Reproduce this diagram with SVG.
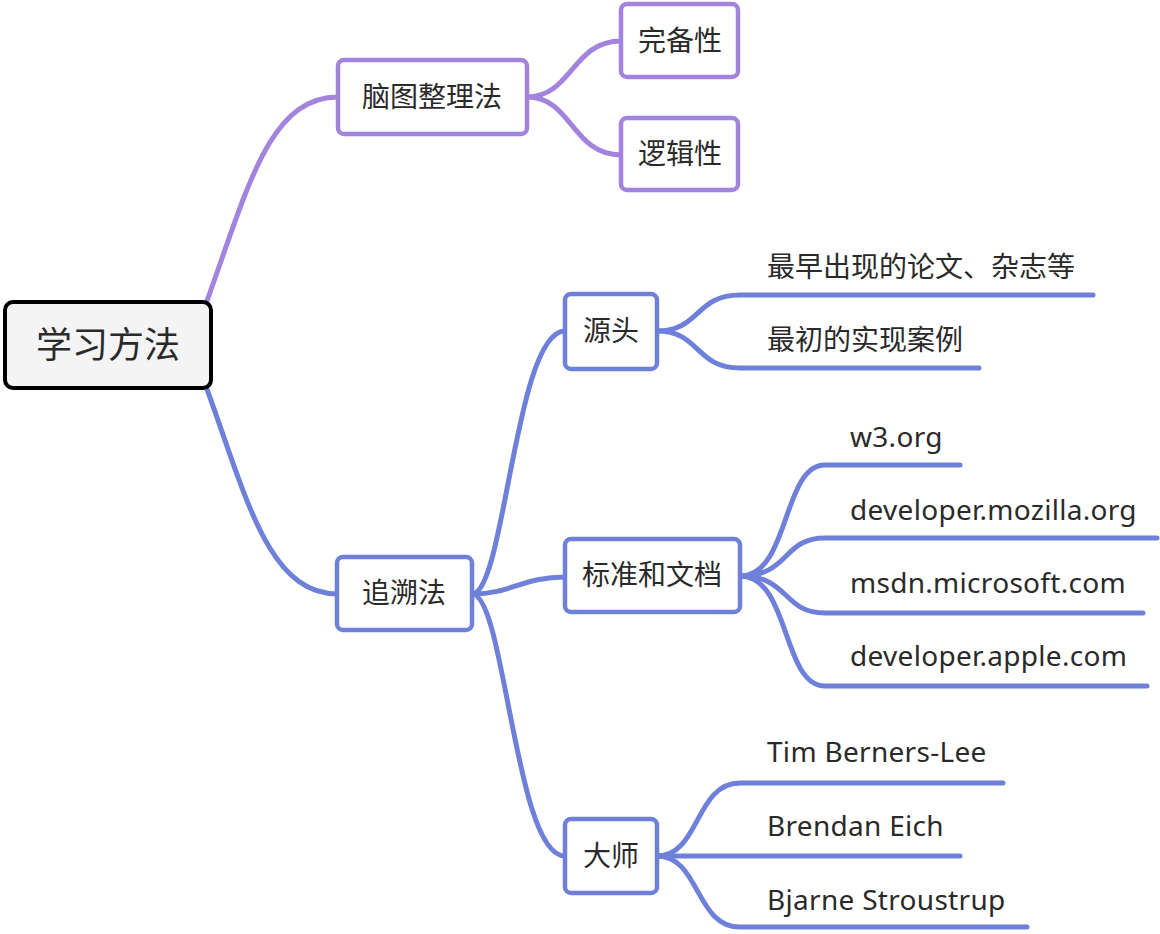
<svg xmlns="http://www.w3.org/2000/svg" width="1160" height="934" viewBox="0 0 1160 934">
<style>
text{font-family:"Noto Sans","Noto Sans CJK SC",sans-serif;fill:#2a2a2a;font-size:28px}
.c{text-anchor:middle}
.l{letter-spacing:0.3px}
.p{fill:none;stroke:#a283dd;stroke-width:5;stroke-linecap:round}
.b{fill:none;stroke:#6e80d9;stroke-width:5;stroke-linecap:round}
.np{fill:#fff;stroke:#a283dd;stroke-width:4.5}
.nb{fill:#fff;stroke:#6e80d9;stroke-width:4.5}
</style>
<rect width="1160" height="934" fill="#fff"/>
<g id="connectors">
<path class="p" d="M200,320 C245,200 265,97 338,97"/>
<path class="b" d="M200,370 C245,490 265,594 338,594"/>
<path class="p" d="M527,97 C572,97 572,41 621,41"/>
<path class="p" d="M527,97 C572,97 572,155 621,155"/>
<path class="b" d="M472,594 C505,594 515,331 565,331"/>
<path class="b" d="M472,594 C512,594 522,577 565,577"/>
<path class="b" d="M472,594 C505,594 515,856 565,856"/>
<path class="b" d="M657,331 C700,331 695,295 740,295 H1093"/>
<path class="b" d="M657,331 C700,331 695,368 740,368 H979"/>
<path class="b" d="M740,576 C790,576 782,465 825,465 H960"/>
<path class="b" d="M740,576 C790,576 782,538 825,538 H1157"/>
<path class="b" d="M740,576 C790,576 782,613 825,613 H1143"/>
<path class="b" d="M740,576 C790,576 782,686 825,686 H1147"/>
<path class="b" d="M657,856 C700,856 695,783 740,783 H1003"/>
<path class="b" d="M657,856 H960"/>
<path class="b" d="M657,856 C700,856 695,927 740,927 H1027"/>
</g>
<g id="root">
<rect x="5" y="302" width="206" height="86" rx="8" fill="#f4f4f4" stroke="#000" stroke-width="4"/>
<text class="c" x="108" y="358" style="font-size:36px">学习方法</text>
</g>
<g id="n-naotu">
<rect class="np" x="338" y="60" width="189" height="74" rx="6"/>
<text class="c" x="432" y="107">脑图整理法</text>
</g>
<g id="n-wanbei">
<rect class="np" x="621" y="4" width="117" height="73" rx="6"/>
<text class="c" x="680" y="51">完备性</text>
</g>
<g id="n-luoji">
<rect class="np" x="621" y="118" width="117" height="72" rx="6"/>
<text class="c" x="680" y="164">逻辑性</text>
</g>
<g id="n-zhuisu">
<rect class="nb" x="337" y="557" width="135" height="73" rx="6"/>
<text class="c" x="404" y="603">追溯法</text>
</g>
<g id="n-yuantou">
<rect class="nb" x="565" y="294" width="92" height="75" rx="6"/>
<text class="c" x="611" y="341">源头</text>
</g>
<g id="n-biaozhun">
<rect class="nb" x="565" y="539" width="175" height="73" rx="6"/>
<text class="c" x="652" y="585">标准和文档</text>
</g>
<g id="n-dashi">
<rect class="nb" x="565" y="819" width="92" height="74" rx="6"/>
<text class="c" x="611" y="866">大师</text>
</g>
<g id="leaf-1"><text x="767" y="277">最早出现的论文、杂志等</text></g>
<g id="leaf-2"><text x="767" y="350">最初的实现案例</text></g>
<g id="leaf-3"><text class="l" x="850" y="447">w3.org</text></g>
<g id="leaf-4"><text class="l" x="850" y="520">developer.mozilla.org</text></g>
<g id="leaf-5"><text class="l" x="850" y="593">msdn.microsoft.com</text></g>
<g id="leaf-6"><text class="l" x="850" y="666">developer.apple.com</text></g>
<g id="leaf-7"><text class="l" x="767" y="762">Tim Berners-Lee</text></g>
<g id="leaf-8"><text class="l" x="767" y="836">Brendan Eich</text></g>
<g id="leaf-9"><text class="l" x="767" y="910">Bjarne Stroustrup</text></g>
</svg>
